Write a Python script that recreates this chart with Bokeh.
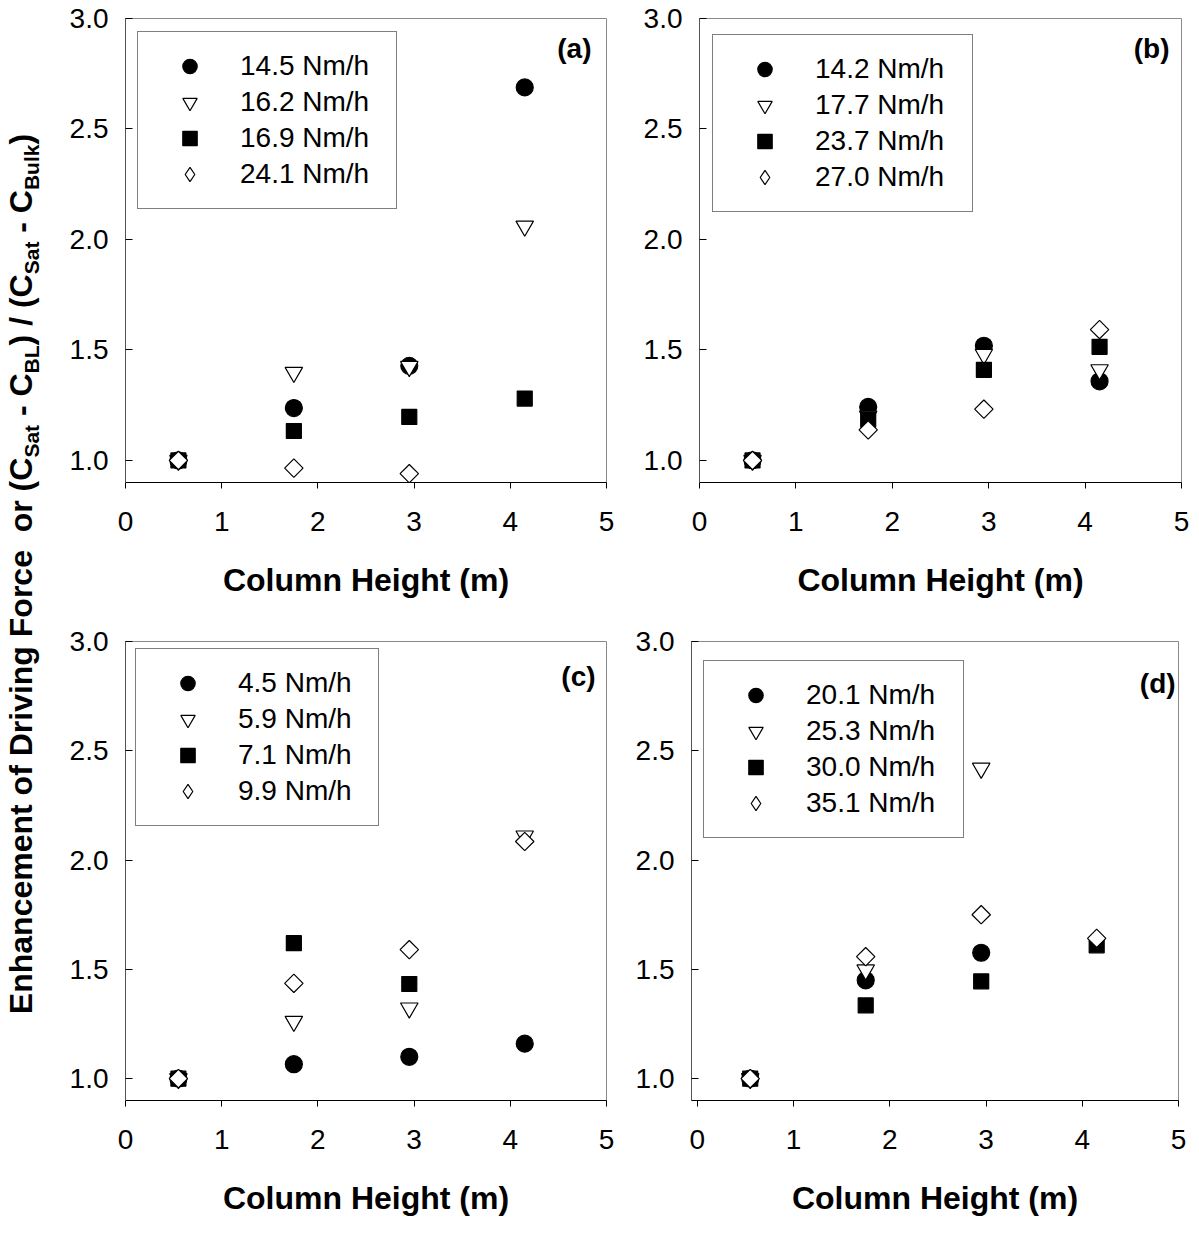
import math
from bokeh.plotting import figure
from bokeh.models import (FixedTicker, PrintfTickFormatter, Legend, LegendItem,
                          Label, Div, Range1d)
from bokeh.layouts import row, column
from bokeh.embed import file_html
from bokeh.resources import INLINE

NAN = float("nan")

# ---------------- data ----------------
heights = [0.55, 1.75, 2.95, 4.15]          # column height (m)
y_ticks = [1.0, 1.5, 2.0, 2.5, 3.0]
x_ticks = [0, 1, 2, 3, 4, 5]

# panel (a)
a_labels = ["14.5 Nm/h", "16.2 Nm/h", "16.9 Nm/h", "24.1 Nm/h"]
a_s1 = [1.00, 1.237, 1.428, 2.688]
a_s2 = [1.00, 1.398, 1.425, 2.060]
a_s3 = [1.00, 1.133, 1.197, 1.280]
a_s4 = [1.00, 0.965, 0.940, NAN]

# panel (b)
b_labels = ["14.2 Nm/h", "17.7 Nm/h", "23.7 Nm/h", "27.0 Nm/h"]
b_s1 = [1.00, 1.242, 1.519, 1.358]
b_s2 = [1.00, 1.200, 1.480, 1.410]
b_s3 = [1.00, 1.185, 1.410, 1.514]
b_s4 = [1.00, 1.138, 1.232, 1.592]

# panel (c)
c_labels = ["4.5 Nm/h", "5.9 Nm/h", "7.1 Nm/h", "9.9 Nm/h"]
c_s1 = [1.00, 1.066, 1.100, 1.160]
c_s2 = [1.00, 1.262, 1.323, 2.110]
c_s3 = [1.00, 1.620, 1.433, NAN]
c_s4 = [1.00, 1.436, 1.590, 2.085]

# panel (d)
d_labels = ["20.1 Nm/h", "25.3 Nm/h", "30.0 Nm/h", "35.1 Nm/h"]
d_s1 = [1.00, 1.450, 1.576, NAN]
d_s2 = [1.00, 1.497, 2.420, NAN]
d_s3 = [1.00, 1.335, 1.445, 1.610]
d_s4 = [1.00, 1.558, 1.750, 1.642]

FONT = "Liberation Sans"

# marker styles: (marker, size, fill, angle, legend-key marker)
STYLES = [
    ("circle", 17, "black", 0.0, None),
    ("inverted_triangle", 17.5, "white", 0.0, None),
    ("square", 15, "black", 0.0, None),
    ("square", 13, "white", math.pi / 4, "diamond"),
]


def make_panel(series, labels, tag, width, height, left, right, top, bottom,
               x0, leg_loc, leg_label_w, tag_xy):
    p = figure(width=width, height=height,
               x_range=Range1d(x0, 5), y_range=Range1d(0.9, 3.0),
               output_backend="svg", toolbar_location=None,
               min_border_left=left, min_border_right=right,
               min_border_top=top, min_border_bottom=bottom)
    p.grid.visible = False
    p.background_fill_color = "white"
    p.border_fill_color = "white"
    p.outline_line_color = "#8a8a8a"
    p.outline_line_width = 1

    xa = p.xaxis[0]
    xa.ticker = FixedTicker(ticks=x_ticks, minor_ticks=[])
    xa.formatter = PrintfTickFormatter(format="%d")
    xa.major_tick_out = 6
    xa.major_tick_in = 0
    xa.minor_tick_out = 0
    xa.minor_tick_in = 0
    xa.axis_line_color = "black"
    xa.major_tick_line_color = "black"
    xa.major_label_text_font = FONT
    xa.major_label_text_font_size = "28px"
    xa.major_label_text_color = "black"
    xa.major_label_standoff = 23
    xa.axis_label = "Column Height (m)"
    xa.axis_label_text_font = FONT
    xa.axis_label_text_font_style = "bold"
    xa.axis_label_text_font_size = "32px"
    xa.axis_label_text_color = "black"
    xa.axis_label_standoff = 28

    ya = p.yaxis[0]
    ya.ticker = FixedTicker(ticks=y_ticks, minor_ticks=[])
    ya.formatter = PrintfTickFormatter(format="%.1f")
    ya.major_tick_in = 7
    ya.major_tick_out = 0
    ya.minor_tick_out = 0
    ya.minor_tick_in = 0
    ya.axis_line_color = "#555555"
    ya.major_tick_line_color = "black"
    ya.major_label_text_font = FONT
    ya.major_label_text_font_size = "28px"
    ya.major_label_text_color = "black"
    ya.major_label_standoff = 17

    items = []
    for vals, lab, (mk, sz, fill, ang, key) in zip(series, labels, STYLES):
        r = p.scatter(heights, vals, marker=mk, size=sz, angle=ang,
                      fill_color=fill, line_color="black", line_width=1.2)
        if key is not None:
            # legend key drawn with a diamond marker (legend ignores angle)
            k = p.scatter([NAN], [NAN], marker=key, size=sz, fill_color=fill,
                          line_color="black", line_width=1.2)
            items.append(LegendItem(label=lab, renderers=[k]))
        else:
            items.append(LegendItem(label=lab, renderers=[r]))

    leg = Legend(items=items, location=leg_loc)
    leg.margin = 0
    leg.padding = 16
    leg.spacing = 0
    leg.glyph_width = 71
    leg.glyph_height = 36
    leg.label_height = 36
    leg.label_width = leg_label_w
    leg.label_standoff = 15
    leg.label_text_font = FONT
    leg.label_text_font_size = "28px"
    leg.label_text_color = "black"
    leg.border_line_color = "black"
    leg.border_line_width = 1
    leg.background_fill_color = "white"
    leg.background_fill_alpha = 1.0
    p.add_layout(leg)

    p.add_layout(Label(x=tag_xy[0], y=tag_xy[1], text=tag, text_align="right",
                       text_baseline="middle", text_font=FONT,
                       text_font_style="bold", text_font_size="28px",
                       text_color="black"))
    return p


pa = make_panel([a_s1, a_s2, a_s3, a_s4], a_labels, "(a)",
                558, 625, 67, 10, 18, 142, 0, (12, 273), 140, (4.844, 2.864))
pb = make_panel([b_s1, b_s2, b_s3, b_s4], b_labels, "(b)",
                574, 625, 83, 9, 18, 143, 0, (13, 270), 141, (4.875, 2.864))
pc = make_panel([c_s1, c_s2, c_s3, c_s4], c_labels, "(c)",
                558, 612, 67, 10, 16, 136, 0, (10, 274), 124, (4.886, 2.842))
pd = make_panel([d_s1, d_s2, d_s3, d_s4], d_labels, "(d)",
                574, 612, 75, 12, 12, 137, -0.06, (12, 262), 141, (4.97, 2.81))

SUB = 'style="font-size:21px;vertical-align:-7px;line-height:0;"'
ytitle_html = (
    '<div style="position:relative;width:48px;height:1237px;">'
    '<div style="position:absolute;left:16px;top:569px;'
    'transform:translate(-50%,-50%) rotate(-90deg);white-space:nowrap;'
    "font-family:'Liberation Sans',Arial,sans-serif;font-weight:bold;"
    'font-size:32px;color:black;line-height:1;">'
    'Enhancement of Driving Force&nbsp; or (C<sub ' + SUB + '>Sat</sub> - '
    'C<sub ' + SUB + '>BL</sub>) / '
    '(C<sub ' + SUB + '>Sat</sub> - '
    'C<sub ' + SUB + '>Bulk</sub>)'
    '</div></div>'
)
ytitle = Div(text=ytitle_html, width=48, height=1237)

layout = row(ytitle, column(row(pa, pb), row(pc, pd)))

with open("out.html", "w") as f:
    f.write(file_html(layout, INLINE, title="Enhancement of Driving Force"))
